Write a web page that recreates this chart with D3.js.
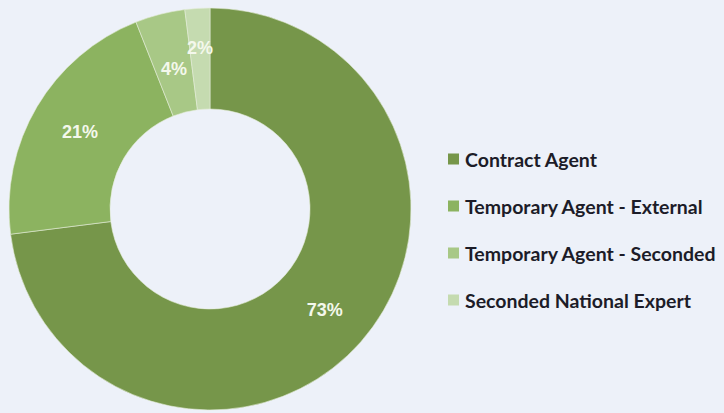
<!DOCTYPE html>
<html>
<head>
<meta charset="utf-8">
<script src="https://cdn.jsdelivr.net/npm/d3@7"></script>
<style>
  html, body { margin: 0; padding: 0; background: #edf1f9; }
  svg { display: block; }
</style>
</head>
<body>
<svg id="chart" width="724" height="413"></svg>
<script>
// Staff categories and their share of the total (%)
const categories = ["Contract Agent", "Temporary Agent - External", "Temporary Agent - Seconded", "Seconded National Expert"];
const shares = [73, 21, 4, 2];
const colors = ["#76964a", "#8cb360", "#a8c886", "#c5dbb0"];

const svg = d3.select("#chart");
const cx = 210, cy = 209, outerR = 201, innerR = 100;

const pie = d3.pie().sort(null).value(d => d.v);
const arcs = pie(categories.map((c, i) => ({ c, v: shares[i], col: colors[i] })));
const arc = d3.arc().innerRadius(innerR).outerRadius(outerR);

const g = svg.append("g").attr("transform", `translate(${cx},${cy})`);
g.selectAll("path").data(arcs).join("path")
  .attr("d", arc)
  .attr("fill", d => d.data.col)
  .attr("stroke", "#e4ecd8")
  .attr("stroke-width", 0.6);

// Percentage labels sit mid-ring at each slice's middle angle
const labelR = [153, 151, 145, 161];
g.selectAll("text.pct").data(arcs).join("text")
  .attr("class", "pct")
  .attr("transform", (d, i) => {
    const a = (d.startAngle + d.endAngle) / 2;
    const r = labelR[i];
    return `translate(${r * Math.sin(a)},${-r * Math.cos(a)})`;
  })
  .attr("text-anchor", "middle")
  .attr("dominant-baseline", "central")
  .attr("fill", "#f4f8ec")
  .attr("font-family", "Liberation Sans, Arial, sans-serif")
  .attr("font-weight", "bold")
  .attr("font-size", 18)
  .text(d => d.data.v + "%");

// Legend
const lx = 448, ly0 = 159, ldy = 47;
const leg = svg.append("g");
categories.forEach((c, i) => {
  const y = ly0 + i * ldy;
  leg.append("rect")
    .attr("x", lx).attr("y", y - 5.5)
    .attr("width", 11).attr("height", 11)
    .attr("fill", colors[i]);
  leg.append("text")
    .attr("x", lx + 17).attr("y", y)
    .attr("dominant-baseline", "central")
    .attr("fill", "#1c1c28")
    .attr("font-family", "Lato, sans-serif")
    .attr("font-weight", "bold")
    .attr("font-size", 19.5)
    .text(c);
});
</script>
</body>
</html>
